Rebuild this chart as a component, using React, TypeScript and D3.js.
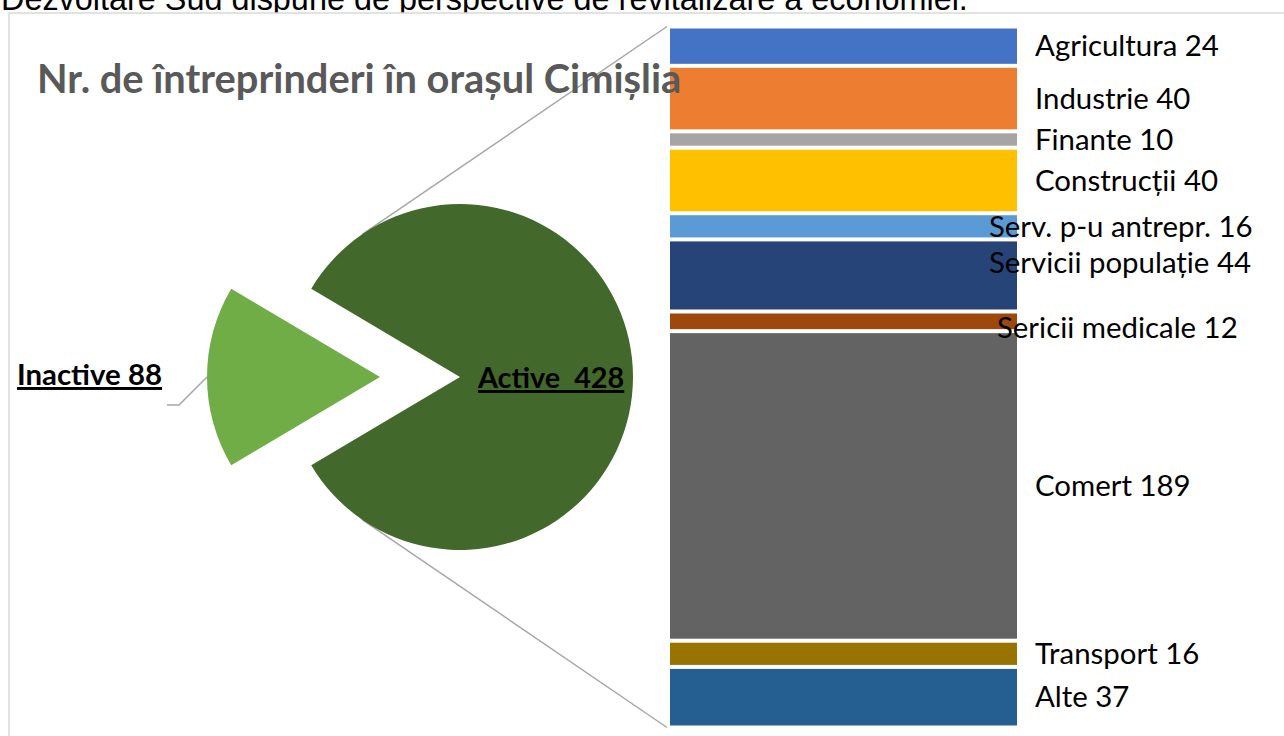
import React from "react";
import * as d3 from "d3";

// pie: active vs inactive
const pieLabels = ["Inactive", "Active"];
const pieValues = [88, 428];

// bar of pie: breakdown of active enterprises
const barLabels = [
  "Agricultura",
  "Industrie",
  "Finante",
  "Construcții",
  "Serv. p-u antrepr.",
  "Servicii populație",
  "Sericii medicale",
  "Comert",
  "Transport",
  "Alte",
];
const barValues = [24, 40, 10, 40, 16, 44, 12, 189, 16, 37];
const barColors = [
  "#4472C4",
  "#ED7D31",
  "#A5A5A5",
  "#FFC000",
  "#5B9BD5",
  "#264478",
  "#9E480E",
  "#636363",
  "#997300",
  "#255E91",
];
// hand-moved labels in the original (dx, dy)
const labelNudges = [
  [0, 0],
  [0, 0],
  [0, 0],
  [0, 0],
  [-46, 0],
  [-46, -13],
  [-38, 6],
  [0, 0],
  [0, 0],
  [0, 0],
];

const W = 1284,
  H = 736;
const cx = 460,
  cy = 377,
  r = 173;
const explode = 80;
const barX0 = 670,
  barX1 = 1017;
const font = "Lato, 'Open Sans', sans-serif";

export default function App() {
  const total = d3.sum(pieValues);
  const span = (2 * Math.PI * pieValues[0]) / total;
  const pie = d3
    .pie<number>()
    .sort(null)
    .startAngle((3 * Math.PI) / 2 - span / 2)
    .endAngle((3 * Math.PI) / 2 - span / 2 + 2 * Math.PI);
  const arcs = pie(pieValues);
  const arc = d3.arc<d3.PieArcDatum<number>>().innerRadius(0).outerRadius(r);

  const y = d3
    .scaleLinear()
    .domain([0, d3.sum(barValues)])
    .range([26.5, 727.5]);
  const ends = Array.from(d3.cumsum(barValues));
  const starts = ends.map((e, i) => e - barValues[i]);

  // tangent point from bar corner to the active circle
  const tangent = (px: number, py: number, upper: boolean) => {
    const dx = cx - px,
      dy = cy - py;
    const d = Math.hypot(dx, dy);
    const base = Math.atan2(dy, dx);
    const off = Math.asin(r / d);
    const a = upper ? base - off : base + off;
    const len = Math.sqrt(d * d - r * r);
    return [px + len * Math.cos(a), py + len * Math.sin(a)];
  };
  const topCorner = [barX0 - 3, y(0)];
  const botCorner = [barX0 - 3, y(d3.sum(barValues))];
  const tTop = tangent(topCorner[0], topCorner[1], false);
  const tBot = tangent(botCorner[0], botCorner[1], true);

  const inactiveOffset = -explode;

  return (
    <svg
      width={W}
      height={H}
      style={{ position: "absolute", left: 0, top: 0, background: "#fff" }}
    >
      <text
        x={1}
        y={10}
        fontFamily="'Liberation Sans', Arial, sans-serif"
        fontSize={32.4}
        fill="#000"
      >
        Dezvoltare Sud dispune de perspective de revitalizare a economiei.
      </text>
      <rect
        x={9}
        y={13}
        width={W + 20}
        height={H + 20}
        fill="#fff"
        stroke="#d9d9d9"
        strokeWidth={1.5}
      />

      {/* connector lines */}
      <line
        x1={topCorner[0]}
        y1={topCorner[1]}
        x2={tTop[0]}
        y2={tTop[1]}
        stroke="#a6a6a6"
        strokeWidth={1.5}
      />
      <line
        x1={botCorner[0]}
        y1={botCorner[1]}
        x2={tBot[0]}
        y2={tBot[1]}
        stroke="#a6a6a6"
        strokeWidth={1.5}
      />

      {/* pie */}
      <g transform={`translate(${cx},${cy})`}>
        <path d={arc(arcs[1]) || ""} fill="#43682B" />
        <path
          d={arc(arcs[0]) || ""}
          fill="#70AD47"
          transform={`translate(${inactiveOffset},0)`}
        />
      </g>

      {/* inactive label + leader */}
      <polyline
        points={`${cx + inactiveOffset - r},${cy} ${cx + inactiveOffset - r - 28},${cy + 28} ${cx + inactiveOffset - r - 40},${cy + 28}`}
        fill="none"
        stroke="#a6a6a6"
        strokeWidth={1.5}
      />
      <text
        x={162}
        y={385}
        textAnchor="end"
        fontFamily={font}
        fontWeight="bold"
        fontSize={29.4}
        textDecoration="underline"
        fill="#000"
      >
        {`${pieLabels[0]} ${pieValues[0]}`}
      </text>
      <text
        x={cx + 18}
        y={388}
        fontFamily={font}
        fontWeight="bold"
        fontSize={28.8}
        textDecoration="underline"
        fill="#000"
        style={{ whiteSpace: "pre" }}
      >
        {`${pieLabels[1]}  ${pieValues[1]}`}
      </text>

      {/* bar */}
      {barValues.map((v, i) => (
        <rect
          key={barLabels[i]}
          x={barX0}
          y={y(starts[i]) + 2}
          width={barX1 - barX0}
          height={y(ends[i]) - y(starts[i]) - 4}
          fill={barColors[i]}
        />
      ))}
      {barValues.map((v, i) => (
        <text
          key={"l" + barLabels[i]}
          x={1035 + labelNudges[i][0]}
          y={(y(starts[i]) + y(ends[i])) / 2 + labelNudges[i][1]}
          dy="0.35em"
          fontFamily={font}
          fontSize={29.4}
          fill="#000"
        >
          {`${barLabels[i]} ${v}`}
        </text>
      ))}

      {/* title drawn last, it overlaps the bar */}
      <text
        x={37}
        y={93}
        fontFamily={font}
        fontWeight="bold"
        fontSize={39.8}
        fill="#595959"
      >
        Nr. de întreprinderi în orașul Cimișlia
      </text>
    </svg>
  );
}
